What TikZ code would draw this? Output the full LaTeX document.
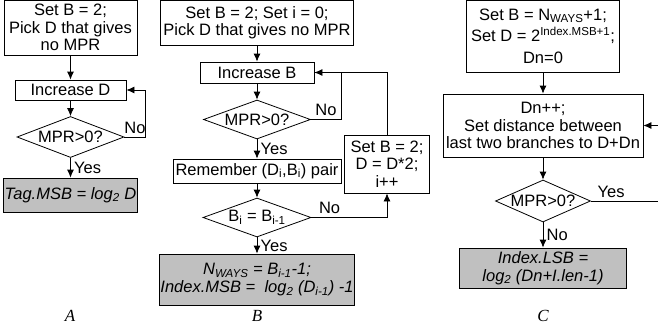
\documentclass[tikz,border=0pt]{standalone}
\usepackage{fontspec}
\setmainfont{Liberation Sans}
\newfontfamily\capfont{Liberation Serif}
\usetikzlibrary{shapes.geometric,arrows.meta}
\definecolor{boxgray}{RGB}{192,192,192}

\begin{document}
\begin{tikzpicture}[x=1pt, y=-1pt, line width=0.8pt,
        font=\fontsize{16.5}{17.5}\selectfont,
        box/.style={rectangle, draw, inner sep=1pt, align=center},
        result/.style={box, fill=boxgray, font=\fontsize{16.5}{18}\selectfont\itshape},
        test/.style={diamond, draw, inner sep=0pt, aspect=2.6},
        flow/.style={-{Latex[length=8pt, width=7pt]}},
        panel/.style={font=\capfont\itshape\fontsize{17}{17}\selectfont}]
        \useasboundingbox (0,0) rectangle (658,332);

        \node[box, minimum width=133pt, minimum height=55pt] (a1) at (70.5,27.5) {Set B = 2;\\Pick D that gives\\no MPR};
        \node[box, minimum width=111pt, minimum height=20pt, node distance=62.5pt] (a2) [below of=a1] {Increase D};
        \node[test, minimum width=107pt, minimum height=41pt, node distance=47pt] (a3) [below of=a2] {MPR>0?};
        \node[result, minimum width=133pt, minimum height=34pt, node distance=58pt] (a4) [below of=a3] {Tag.MSB = log\textsubscript{2} D};
        \node[panel] (la) at (70,316) {A};

        \node[box, minimum width=193pt, minimum height=45pt] (b1) at (257,22.5) {Set B = 2; Set i = 0;\\Pick D that gives no MPR};
        \node[box, minimum width=114pt, minimum height=21pt, node distance=50pt] (b2) [below of=b1] {Increase B};
        \node[test, minimum width=107pt, minimum height=39pt, node distance=47pt] (b3) [below of=b2] {MPR>0?};
        \node[box, minimum width=168pt, minimum height=24pt, node distance=51.5pt] (b4) [below of=b3] {Remember (D\textsubscript{i},B\textsubscript{i}) pair};
        \node[test, minimum width=108pt, minimum height=39pt, node distance=46.5pt] (b6) [below of=b4] {B\textsubscript{i} = B\textsubscript{i-1}};
        \node[result, minimum width=193pt, minimum height=51pt, node distance=62pt] (b7) [below of=b6] {N\textsubscript{WAYS} = B\textsubscript{i-1}-1;\\Index.MSB =\ \ log\textsubscript{2} (D\textsubscript{i-1}) -1};
        \node[box, minimum width=85pt, minimum height=58pt] (b5) at (387,164) {Set B = 2;\\D = D*2;\\i++};
        \node[panel] (lb) at (257,316) {B};

        \node[box, minimum width=153pt, minimum height=72pt, font=\fontsize{16.5}{21.5}\selectfont] (c1) at (543,36) {Set B = N\textsubscript{WAYS}+1;\\Set D = 2\textsuperscript{Index.MSB+1};\\Dn=0};
        \node[box, minimum width=200pt, minimum height=63pt, node distance=89.5pt] (c2) [below of=c1] {Dn++;\\Set distance between\\last two branches to D+Dn};
        \node[test, minimum width=92pt, minimum height=42pt, node distance=75.5pt] (c3) [below of=c2] {MPR>0?};
        \node[result, minimum width=167pt, minimum height=40pt, node distance=67pt] (c4) [below of=c3] {Index.LSB =\\log\textsubscript{2} (Dn+I.len-1)};
        \node[panel] (lc) at (543,316) {C};
        \coordinate (cyes) at (658,201);
        \coordinate (cback) at (658,125.5);

        \draw[flow] (a1) -- (a2);
        \draw[flow] (a2) -- (a3);
        \draw[flow] (a3) -- (a4) node[midway, right] {Yes};
        \draw[flow] (a3.east) -- ++(21,0) node[midway, above] {No} |- (a2.east);

        \draw[flow] (b1) -- (b2);
        \draw[flow] (b2) -- (b3);
        \draw[flow] (b3) -- (b4) node[midway, right] {Yes};
        \draw[flow] (b4) -- (b6);
        \draw[flow] (b6) -- (b7) node[midway, right] {Yes};
        \draw (b3.east) -- ++(30,0) node[midway, above] {No} |- (b2.east);
        \draw[flow] (b5.north) |- (b2.east);
        \draw[flow] (b6.east) -| (b5.south) node[pos=0.12, above] {No};

        \draw[flow] (c1) -- (c2);
        \draw[flow] (c2) -- (c3);
        \draw[flow] (c3) -- (c4) node[midway, right] {No};
        \draw (c3.east) -- (cyes) node[pos=0.3, above] {Yes};
        \draw[flow] (cback) -- (c2.east);
\end{tikzpicture}
\end{document}
